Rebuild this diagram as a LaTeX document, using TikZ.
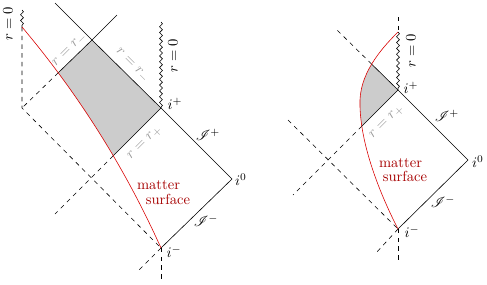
\documentclass[tikz,border=0pt]{standalone}
\usepackage{mathrsfs}
\usetikzlibrary{decorations.pathmorphing,intersections}
\begin{document}
\begin{tikzpicture}[x=0.686pt,y=-0.686pt,
  wavy/.style={decorate,decoration={snake,amplitude=1pt,segment length=4pt}},
  mattercurve/.style={red!85!black},
  mlabel/.style={text=red!65!black,inner sep=0pt},
  glabel/.style={text=gray!80,inner sep=0pt},
  plabel/.style={inner sep=0pt},
  horizonfill/.style={fill=gray!40}
]
\useasboundingbox (0,0) rectangle (487,284);

% ---------------- left diagram ----------------
\coordinate (Lr0) at (22,27);
\coordinate (Lr0top) at (22,10);
\coordinate (Lc) at (22,108);
\coordinate (Ltop) at (92,40);
\coordinate (Lip) at (161,108);
\coordinate (Li0) at (232,179);
\coordinate (Lim) at (161,248);
\coordinate (LA) at (55,3);
\coordinate (LB) at (117,15);
\coordinate (LD) at (55,214);
\coordinate (LE) at (138,271);
\coordinate (LF) at (161,280);
\coordinate (Lwt) at (161,22);

\path[name path=Lcurve] (Lr0) .. controls (78.7,94.3) and (125,168) .. (Lim);
\path[name path=LlineA] (Ltop) -- (Lc);
\path[name path=LlineB] (Lip) -- (LD);
\path[name intersections={of=Lcurve and LlineA, by=Lx1}];
\path[name intersections={of=Lcurve and LlineB, by=Lx2}];

\begin{scope}
  \clip (Lr0) .. controls (78.7,94.3) and (125,168) .. (Lim) -- (300,248) -- (300,0) -- (22,0) -- cycle;
  \fill[horizonfill] (Ltop) -- (Lip) -- (LD) -- (Lc) -- cycle;
\end{scope}

\draw (LA) -- (Ltop) -- (Lip) -- (Li0) -- (Lim);
\draw (LB) -- (Ltop) -- (Lx1);
\draw[dashed] (Lx1) -- (Lc);
\draw[dashed] (Lr0) -- (Lc) -- (Lim);
\draw (Lip) -- (Lx2);
\draw[dashed] (Lx2) -- (LD);
\draw[dashed] (Lim) -- (LE);
\draw[dashed] (Lim) -- (LF);
\draw[wavy] (Lr0top) -- (Lr0);
\draw[wavy] (Lwt) -- (Lip);
\draw[mattercurve] (Lr0) .. controls (78.7,94.3) and (125,168) .. (Lim);

\node[plabel,rotate=90] (Llr0a) at (8,24) {$r=0$};
\node[plabel,rotate=90] (Llr0b) at (173,56) {$r=0$};
\node[glabel,rotate=45] (Llrm1) at (70,50) {$r=r_-$};
\node[glabel,rotate=-45] (Llrm2) at (132,66) {$r=r_-$};
\node[glabel,rotate=45] (Llrp) at (145,143) {$r=r_+$};
\node[plabel] (Llip) at (175,104) {$i^+$};
\node[plabel] (Lli0) at (241,180) {$i^0$};
\node[plabel] (Llim) at (174,252) {$i^-$};
\node[plabel] (LlIp) at (208,135) {$\mathscr{I}^+$};
\node[plabel] (LlIm) at (206,221) {$\mathscr{I}^-$};
\node[mlabel] (Llm1) at (158.5,185) {matter};
\node[mlabel] (Llm2) at (168,199) {surface};

% ---------------- right diagram ----------------
\coordinate (Rip) at (398,90);
\coordinate (Ri0) at (468,160);
\coordinate (Rim) at (398,229);
\coordinate (Rs) at (398,32);
\coordinate (Rst) at (398,17);
\coordinate (RA) at (335,28);
\coordinate (RD) at (293,195);
\coordinate (RC) at (288,120);
\coordinate (RE) at (376,253);
\coordinate (RF) at (398,260);

\path[name path=Rcurve] (Rs) .. controls (385,45) and (361,70) .. (360,100) .. controls (359,140) and (378,190) .. (Rim);
\path[name path=RlineA] (Rip) -- (RA);
\path[name path=RlineB] (Rip) -- (RD);
\path[name intersections={of=Rcurve and RlineA, by=Rx1}];
\path[name intersections={of=Rcurve and RlineB, by=Rx2}];

\begin{scope}
  \clip (Rs) .. controls (385,45) and (361,70) .. (360,100) .. controls (359,140) and (378,190) .. (Rim) -- (487,229) -- (487,0) -- (398,0) -- cycle;
  \fill[horizonfill] (Rip) -- (RA) -- (RD) -- cycle;
\end{scope}

\draw (Rip) -- (Ri0) -- (Rim);
\draw (Rip) -- (Rx1);
\draw[dashed] (Rx1) -- (RA);
\draw (Rip) -- (Rx2);
\draw[dashed] (Rx2) -- (RD);
\draw[dashed] (RC) -- (Rim);
\draw[dashed] (Rim) -- (RE);
\draw[dashed] (Rim) -- (RF);
\draw[dashed] (Rst) -- (Rs);
\draw[wavy] (Rs) -- (Rip);
\draw[mattercurve] (Rs) .. controls (385,45) and (361,70) .. (360,100) .. controls (359,140) and (378,190) .. (Rim);

\node[plabel,rotate=90] (Rlr0) at (411,51) {$r=0$};
\node[plabel] (Rlip) at (411,88) {$i^+$};
\node[glabel,rotate=45] (Rlrp) at (387,122) {$r=r_+$};
\node[plabel] (RlIp) at (447,116) {$\mathscr{I}^+$};
\node[plabel] (Rli0) at (478,162) {$i^0$};
\node[plabel] (RlIm) at (443,202) {$\mathscr{I}^-$};
\node[plabel] (Rlim) at (412,232) {$i^-$};
\node[mlabel] (Rlm1) at (400.5,163) {matter};
\node[mlabel] (Rlm2) at (405,176) {surface};
\end{tikzpicture}
\end{document}
